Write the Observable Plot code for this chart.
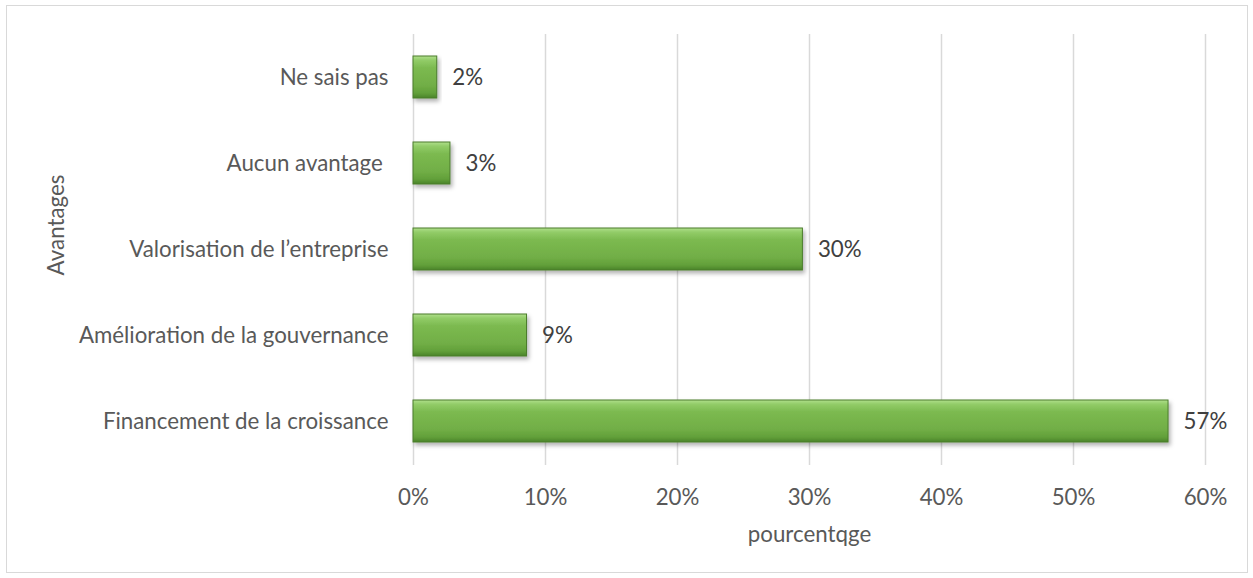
<!DOCTYPE html>
<html>
<head>
<meta charset="utf-8">
<script src="https://cdn.jsdelivr.net/npm/d3@7"></script>
<script src="https://cdn.jsdelivr.net/npm/@observablehq/plot@0.6"></script>
<style>
  html, body { margin: 0; padding: 0; background: #fff; }
  #wrap { position: relative; width: 1253px; height: 578px; }
  #frame { position: absolute; left: 6px; top: 5px; width: 1240px; height: 566px; border: 1px solid #d9d9d9; pointer-events: none; }
  #chart { position: absolute; left: 0; top: 0; }
  #chart svg text { white-space: pre; }
</style>
</head>
<body>
<div id="wrap"><div id="chart"></div><div id="frame"></div></div>
<script>
const categories = [
  "Ne sais pas",
  "Aucun avantage ",
  "Valorisation de l\u2019entreprise",
  "Am\u00e9lioration de la gouvernance",
  "Financement de la croissance"
];
const values = [0.018, 0.028, 0.295, 0.086, 0.572];
const valueLabels = ["2%", "3%", "30%", "9%", "57%"];
const xTicks = [0, 0.1, 0.2, 0.3, 0.4, 0.5, 0.6];
const xTitle = "pourcentqge";
const yTitle = "Avantages";

const data = categories.map((c, i) => ({category: c, value: values[i], label: valueLabels[i]}));

const FONT = "Lato, 'Open Sans', sans-serif";
const FS = 22.3;

const chart = Plot.plot({
  width: 1253,
  height: 578,
  marginLeft: 413,
  marginRight: 48,
  marginTop: 34,
  marginBottom: 113,
  style: {fontFamily: FONT, fontSize: FS + "px", color: "#595959", background: "transparent"},
  x: {domain: [0, 0.6], ticks: xTicks, tickFormat: d3.format(".0%")},
  y: {domain: categories, paddingInner: 0.51, paddingOuter: 0.255},
  marks: [
    Plot.gridX(xTicks, {stroke: "#d9d9d9", strokeOpacity: 1, strokeWidth: 1.5}),
    Plot.barX(data, {x: "value", y: "category", fill: "url(#bevel)", stroke: "#4b7d2c", strokeWidth: 1}),
    Plot.text(data, {x: "value", y: "category", text: "label", textAnchor: "start", dx: 15, fill: "#404040", fontSize: FS}),
    Plot.axisX({ticks: xTicks, tickSize: 0, tickPadding: 24, tickFormat: d3.format(".0%"), label: null, fill: "#595959", fontSize: FS}),
    Plot.axisY({tickSize: 0, tickPadding: 25, label: null, fill: "#595959", fontSize: FS}),
    Plot.text([xTitle], {frameAnchor: "bottom", text: d => d, dy: 76, fill: "#595959", fontSize: FS}),
    Plot.text([yTitle], {frameAnchor: "left", textAnchor: "middle", text: d => d, rotate: -90, dx: -357, dy: -25, fill: "#595959", fontSize: FS})
  ]
});

const svg = d3.select(chart);
const defs = svg.insert("defs", ":first-child");
const g = defs.append("linearGradient").attr("id", "bevel").attr("x1", 0).attr("y1", 0).attr("x2", 0).attr("y2", 1);
[[0, "#b0df8c"], [0.1, "#92cc68"], [0.28, "#7cba50"], [0.7, "#71ae46"], [0.88, "#62a03a"], [1, "#4a8428"]]
  .forEach(([o, c]) => g.append("stop").attr("offset", o).attr("stop-color", c));
const f = defs.append("filter").attr("id", "shadow").attr("x", "-10%").attr("y", "-30%").attr("width", "130%").attr("height", "180%");
f.append("feDropShadow").attr("dx", 2).attr("dy", 3).attr("stdDeviation", 2).attr("flood-color", "#000").attr("flood-opacity", 0.3);
svg.selectAll("g[fill='url(#bevel)'] rect, rect[fill='url(#bevel)']").attr("filter", "url(#shadow)");

document.getElementById("chart").appendChild(chart);
</script>
</body>
</html>
